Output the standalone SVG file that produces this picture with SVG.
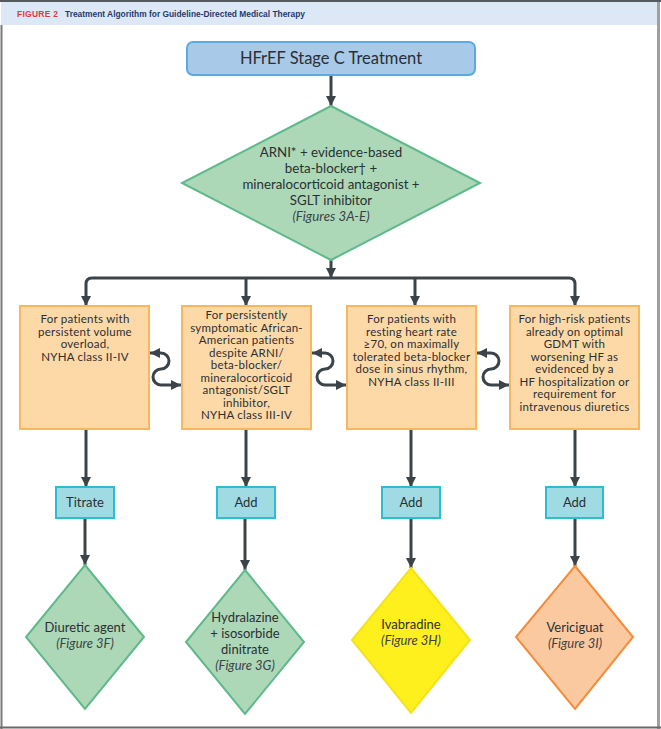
<svg xmlns="http://www.w3.org/2000/svg" width="661" height="729" viewBox="0 0 661 729">
  <defs>
    <marker id="arrow" viewBox="0 0 10 10" refX="10" refY="5" markerWidth="10" markerHeight="10" markerUnits="userSpaceOnUse" orient="auto-start-reverse">
      <path d="M0,0 L10,5 L0,10 Z" fill="#3d4449"/>
    </marker>
    <style>
      .t { font-family: Lato, "Noto Sans", "Liberation Sans", sans-serif; fill: #2b2f33; text-anchor: middle; }
      .title { font-size: 16.5px; }
      .dia { font-size: 13.3px; }
      .box { font-size: 11.5px; letter-spacing: 0.25px; }
      .small { font-size: 13px; }
      .it { font-style: italic; fill: #3c4146; }
      .conn { fill: none; stroke: #3d4449; stroke-width: 3; }
      .orange { fill: #fdd9a8; stroke: #f7b75e; stroke-width: 2; }
      .blue { fill: #a0dbe3; stroke: #2bbdd1; stroke-width: 2; }
      .green { fill: #acd8b8; stroke: #5fb98a; stroke-width: 2; }
    </style>
  </defs>

  <!-- frame and header band -->
  <rect x="0" y="0" width="661" height="729" fill="#ffffff"/>
  <rect x="1" y="2" width="657" height="23" fill="#dce8f5"/>
  <line x1="0" y1="1" x2="661" y2="1" stroke="#555a5e" stroke-width="2"/>
  <line x1="1.5" y1="25" x2="1.5" y2="729" stroke="#7a7a7a" stroke-width="2"/>
  <line x1="658.5" y1="2" x2="658.5" y2="729" stroke="#a0a0a0" stroke-width="3"/>
  <line x1="0" y1="727.5" x2="661" y2="727.5" stroke="#6a6a6a" stroke-width="2"/>
  <text x="17" y="17" font-family="'Liberation Sans', Arial, sans-serif" font-size="8.5" font-weight="bold" fill="#e03a3e" textLength="41" lengthAdjust="spacing">FIGURE 2</text>
  <text x="65" y="17" font-family="'Liberation Sans', Arial, sans-serif" font-size="9" font-weight="bold" fill="#1f3a6e" textLength="240" lengthAdjust="spacingAndGlyphs">Treatment Algorithm for Guideline-Directed Medical Therapy</text>

  <!-- connectors -->
  <g id="connectors">
    <line class="conn" x1="331" y1="75" x2="331" y2="106" marker-end="url(#arrow)"/>
    <line class="conn" x1="331" y1="260" x2="331" y2="278" marker-end="url(#arrow)"/>
    <path class="conn" d="M86,306 V284 Q86,278 92,278 H569 Q575,278 575,284 V306" marker-start="url(#arrow)" marker-end="url(#arrow)"/>
    <line class="conn" x1="246" y1="278" x2="246" y2="306" marker-end="url(#arrow)"/>
    <line class="conn" x1="415" y1="278" x2="415" y2="306" marker-end="url(#arrow)"/>

    <!-- bidirectional S links between adjacent boxes -->
    <path class="conn" d="M150,353 H161 A8,8 0 0 1 161,369 A8,8 0 0 0 161,385 H181" marker-start="url(#arrow)" marker-end="url(#arrow)"/>
    <path class="conn" d="M312,353 H325 A8,8 0 0 1 325,369 A8,8 0 0 0 325,385 H346" marker-start="url(#arrow)" marker-end="url(#arrow)"/>
    <path class="conn" d="M477,353 H491 A8,8 0 0 1 491,369 A8,8 0 0 0 491,385 H509" marker-start="url(#arrow)" marker-end="url(#arrow)"/>

    <line class="conn" x1="86" y1="430" x2="86" y2="487" marker-end="url(#arrow)"/>
    <line class="conn" x1="246" y1="430" x2="246" y2="487" marker-end="url(#arrow)"/>
    <line class="conn" x1="411" y1="430" x2="411" y2="487" marker-end="url(#arrow)"/>
    <line class="conn" x1="575" y1="430" x2="575" y2="487" marker-end="url(#arrow)"/>

    <line class="conn" x1="85" y1="518" x2="85" y2="565" marker-end="url(#arrow)"/>
    <line class="conn" x1="245" y1="518" x2="245" y2="570" marker-end="url(#arrow)"/>
    <line class="conn" x1="411" y1="518" x2="411" y2="568" marker-end="url(#arrow)"/>
    <line class="conn" x1="575" y1="518" x2="575" y2="566" marker-end="url(#arrow)"/>
  </g>

  <!-- start -->
  <g id="start">
    <rect x="187" y="42" width="288" height="33" rx="6" fill="#a9c9e8" stroke="#5aabe0" stroke-width="2"/>
    <text class="t title" x="331" y="64">HFrEF Stage C Treatment</text>
  </g>

  <!-- core therapy -->
  <g id="core-therapy">
    <polygon class="green" points="331,106 480,183 331,260 182,183"/>
    <text class="t dia" x="331" y="157">ARNI* + evidence-based</text>
    <text class="t dia" x="331" y="173">beta-blocker† +</text>
    <text class="t dia" x="331" y="189">mineralocorticoid antagonist +</text>
    <text class="t dia" x="331" y="205">SGLT inhibitor</text>
    <text class="t dia it" x="331" y="221">(Figures 3A-E)</text>
  </g>

  <!-- patient groups -->
  <g id="volume-overload">
    <rect class="orange" x="20" y="306" width="129" height="123"/>
    <text class="t box" x="85" y="323">For patients with</text>
    <text class="t box" x="85" y="335.5">persistent volume</text>
    <text class="t box" x="85" y="348">overload,</text>
    <text class="t box" x="85" y="360.5">NYHA class II-IV</text>
  </g>
  <g id="african-american">
    <rect class="orange" x="182" y="306" width="129" height="123"/>
    <text class="t box" x="246.5" y="319">For persistently</text>
    <text class="t box" x="246.5" y="331.5">symptomatic African-</text>
    <text class="t box" x="246.5" y="344">American patients</text>
    <text class="t box" x="246.5" y="356.5">despite ARNI/</text>
    <text class="t box" x="246.5" y="369">beta-blocker/</text>
    <text class="t box" x="246.5" y="381.5">mineralocorticoid</text>
    <text class="t box" x="246.5" y="394">antagonist/SGLT</text>
    <text class="t box" x="246.5" y="406.5">inhibitor,</text>
    <text class="t box" x="246.5" y="419">NYHA class III-IV</text>
  </g>
  <g id="heart-rate">
    <rect class="orange" x="347" y="306" width="129" height="123"/>
    <text class="t box" x="411.5" y="323">For patients with</text>
    <text class="t box" x="411.5" y="335.5">resting heart rate</text>
    <text class="t box" x="411.5" y="348">≥70, on maximally</text>
    <text class="t box" x="411.5" y="360.5">tolerated beta-blocker</text>
    <text class="t box" x="411.5" y="373">dose in sinus rhythm,</text>
    <text class="t box" x="411.5" y="385.5">NYHA class II-III</text>
  </g>
  <g id="high-risk">
    <rect class="orange" x="510" y="306" width="129" height="123"/>
    <text class="t box" x="574.5" y="323">For high-risk patients</text>
    <text class="t box" x="574.5" y="335.5">already on optimal</text>
    <text class="t box" x="574.5" y="348">GDMT with</text>
    <text class="t box" x="574.5" y="360.5">worsening HF as</text>
    <text class="t box" x="574.5" y="373">evidenced by a</text>
    <text class="t box" x="574.5" y="385.5">HF hospitalization or</text>
    <text class="t box" x="574.5" y="398">requirement for</text>
    <text class="t box" x="574.5" y="410.5">intravenous diuretics</text>
  </g>

  <!-- actions -->
  <g id="titrate">
    <rect class="blue" x="56" y="487" width="58" height="31"/>
    <text class="t small" x="85" y="507">Titrate</text>
  </g>
  <g id="add-1">
    <rect class="blue" x="217" y="487" width="58" height="31"/>
    <text class="t small" x="246" y="507">Add</text>
  </g>
  <g id="add-2">
    <rect class="blue" x="382" y="487" width="58" height="31"/>
    <text class="t small" x="411" y="507">Add</text>
  </g>
  <g id="add-3">
    <rect class="blue" x="546" y="487" width="57" height="31"/>
    <text class="t small" x="574.5" y="507">Add</text>
  </g>

  <!-- therapies -->
  <g id="diuretic">
    <polygon class="green" points="85,565 144,637 85,709 26,637"/>
    <text class="t small" x="85" y="632">Diuretic agent</text>
    <text class="t small it" x="85" y="648">(Figure 3F)</text>
  </g>
  <g id="hydralazine">
    <polygon class="green" points="245,570 304,642 245,714 186,642"/>
    <text class="t small" x="245" y="622">Hydralazine</text>
    <text class="t small" x="245" y="638">+ isosorbide</text>
    <text class="t small" x="245" y="654">dinitrate</text>
    <text class="t small it" x="245" y="670">(Figure 3G)</text>
  </g>
  <g id="ivabradine">
    <polygon points="411,568 470,640 411,713 352,640" fill="#fef01c" stroke="#f4e21a" stroke-width="2"/>
    <text class="t small" x="411" y="629">Ivabradine</text>
    <text class="t small it" x="411" y="645">(Figure 3H)</text>
  </g>
  <g id="vericiguat">
    <polygon points="575,566 633,637 575,709 516,637" fill="#fbc9a0" stroke="#f48c3c" stroke-width="2"/>
    <text class="t small" x="575" y="632">Vericiguat</text>
    <text class="t small it" x="575" y="648">(Figure 3I)</text>
  </g>
</svg>
